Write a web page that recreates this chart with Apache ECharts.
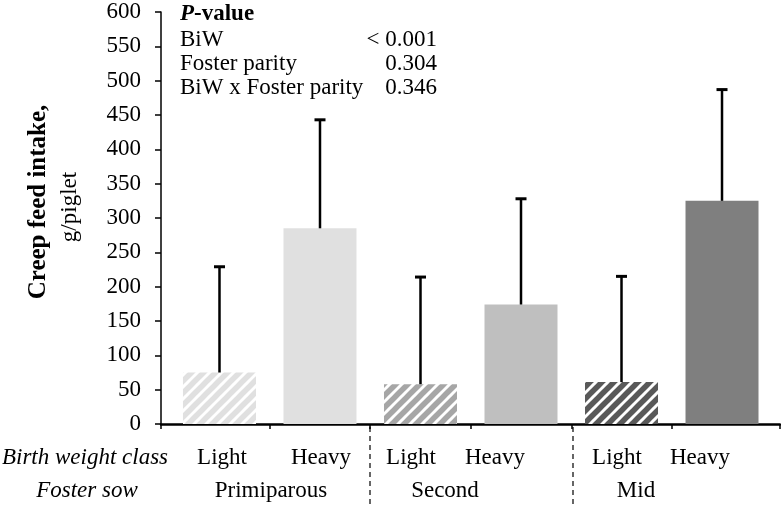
<!DOCTYPE html>
<html><head><meta charset="utf-8">
<script src="https://cdn.jsdelivr.net/npm/echarts@6/dist/echarts.min.js"></script>
<style>html,body{margin:0;padding:0;background:#fff}#c{width:781px;height:508px}</style>
</head><body><div id="c"></div>
<script>
// ---- data ----
const categories = ['Light', 'Heavy', 'Light', 'Heavy', 'Light', 'Heavy'];
const groups = ['Primiparous', 'Second', 'Mid'];
const meanIntake = [75, 285, 58, 174, 61, 325];
const upperIntake = [229, 443, 214, 328, 215, 487];
const yMin = 0, yMax = 600, yStep = 50;
const pValueRows = [['BiW', '< 0.001'], ['Foster parity', '0.304'], ['BiW x Foster parity', '0.346']];
const rowTitles = ['Birth weight class', 'Foster sow'];

// ---- styles ----
const FONT = '"Liberation Serif", "Times New Roman", serif';
const FS = 23;
const barColors = ['#e0e0e0', '#e0e0e0', '#a6a6a6', '#bfbfbf', '#595959', '#7f7f7f'];
const hatched = [true, false, true, false, true, false];

function stripe(color) {
  const s = 12;
  const cv = document.createElement('canvas');
  cv.width = s; cv.height = s;
  const ctx = cv.getContext('2d');
  ctx.fillStyle = '#fff'; ctx.fillRect(0, 0, s, s);
  ctx.strokeStyle = color; ctx.lineWidth = 5.5;
  for (let k = -1; k <= 1; k++) {
    ctx.beginPath();
    ctx.moveTo(k * s - 2, s + 2);
    ctx.lineTo(k * s + s + 2, -2);
    ctx.stroke();
  }
  return { image: cv, repeat: 'repeat' };
}

const chart = echarts.init(document.getElementById('c'), null, { renderer: 'canvas' });

const barData = meanIntake.map((v, i) => ({
  value: [i, v],
  itemStyle: { color: hatched[i] ? stripe(barColors[i]) : barColors[i] }
}));
const errData = meanIntake.map((v, i) => [i, v, upperIntake[i]]);

const xMin = -0.582, xMax = 5.577;
const tickVals = [xMin, 0.5, 1.5, 2.5, 3.5, 4.5, xMax];

// label positions (layout)
const catX = [222, 321, 411, 495, 617, 700];
const groupX = [271, 445, 636];
const graphics = [];
function txt(x, y, s, font, align) {
  return { type: 'text', x: x, y: y,
    style: { text: s, font: font, fill: '#000', align: align || 'center', verticalAlign: 'middle' } };
}
categories.forEach((c, i) => graphics.push(txt(catX[i], 458, c, FS + 'px ' + FONT)));
groups.forEach((g, i) => graphics.push(txt(groupX[i], 491, g, FS + 'px ' + FONT)));
graphics.push(txt(85, 458, rowTitles[0], 'italic ' + FS + 'px ' + FONT));
graphics.push(txt(87, 491, rowTitles[1], 'italic ' + FS + 'px ' + FONT));
[370, 573].forEach(x => graphics.push({
  type: 'line', shape: { x1: x, y1: 427, x2: x, y2: 506 },
  style: { stroke: '#000', lineWidth: 1.2, lineDash: [5, 4] }
}));
// y title
graphics.push(Object.assign(txt(39, 202, 'Creep feed intake,', 'bold 25px ' + FONT), { rotation: Math.PI / 2 }));
graphics.push(Object.assign(txt(70, 207, 'g/piglet', FS + 'px ' + FONT), { rotation: Math.PI / 2 }));
// P-value table
graphics.push({
  type: 'text', x: 180, y: 14,
  style: {
    text: '{p|P}{v|-value}', align: 'left', verticalAlign: 'middle',
    rich: {
      p: { font: 'italic bold ' + FS + 'px ' + FONT, fill: '#000' },
      v: { font: 'bold ' + FS + 'px ' + FONT, fill: '#000' }
    }
  }
});
pValueRows.forEach((r, i) => {
  const y = 40 + i * 24;
  graphics.push(txt(180, y, r[0], FS + 'px ' + FONT, 'left'));
  graphics.push(txt(437, y, r[1], FS + 'px ' + FONT, 'right'));
});

chart.setOption({
  animation: false,
  backgroundColor: '#fff',
  grid: { left: 161, right: 1, top: 12, bottom: 84, containLabel: false },
  xAxis: {
    type: 'value', min: xMin, max: xMax,
    axisLine: { show: true, onZero: false, lineStyle: { color: '#000', width: 2.5 } },
    axisTick: { show: true, length: 5, customValues: tickVals, lineStyle: { color: '#000', width: 1.5 } },
    axisLabel: { show: false },
    splitLine: { show: false }
  },
  yAxis: {
    type: 'value', min: yMin, max: yMax, interval: yStep,
    axisLine: { show: true, onZero: false, lineStyle: { color: '#000', width: 1.5 } },
    axisTick: { show: true, length: 6, lineStyle: { color: '#000', width: 1.5 } },
    axisLabel: { margin: 20, color: '#000', fontSize: FS, fontFamily: FONT },
    splitLine: { show: false }
  },
  series: [
    { type: 'bar', data: barData, barWidth: 73, z: 2 },
    {
      type: 'custom', data: errData, z: 3,
      renderItem: function (params, api) {
        const x = api.value(0), lo = api.value(1), hi = api.value(2);
        const p0 = api.coord([x, lo]), p1 = api.coord([x, hi]);
        const hw = 5.5;
        return { type: 'group', children: [
          { type: 'line', shape: { x1: p0[0], y1: p0[1], x2: p1[0], y2: p1[1] }, style: { stroke: '#000', lineWidth: 2.5 } },
          { type: 'line', shape: { x1: p1[0] - hw, y1: p1[1], x2: p1[0] + hw, y2: p1[1] }, style: { stroke: '#000', lineWidth: 3 } }
        ] };
      }
    }
  ],
  graphic: graphics
});
</script></body></html>
